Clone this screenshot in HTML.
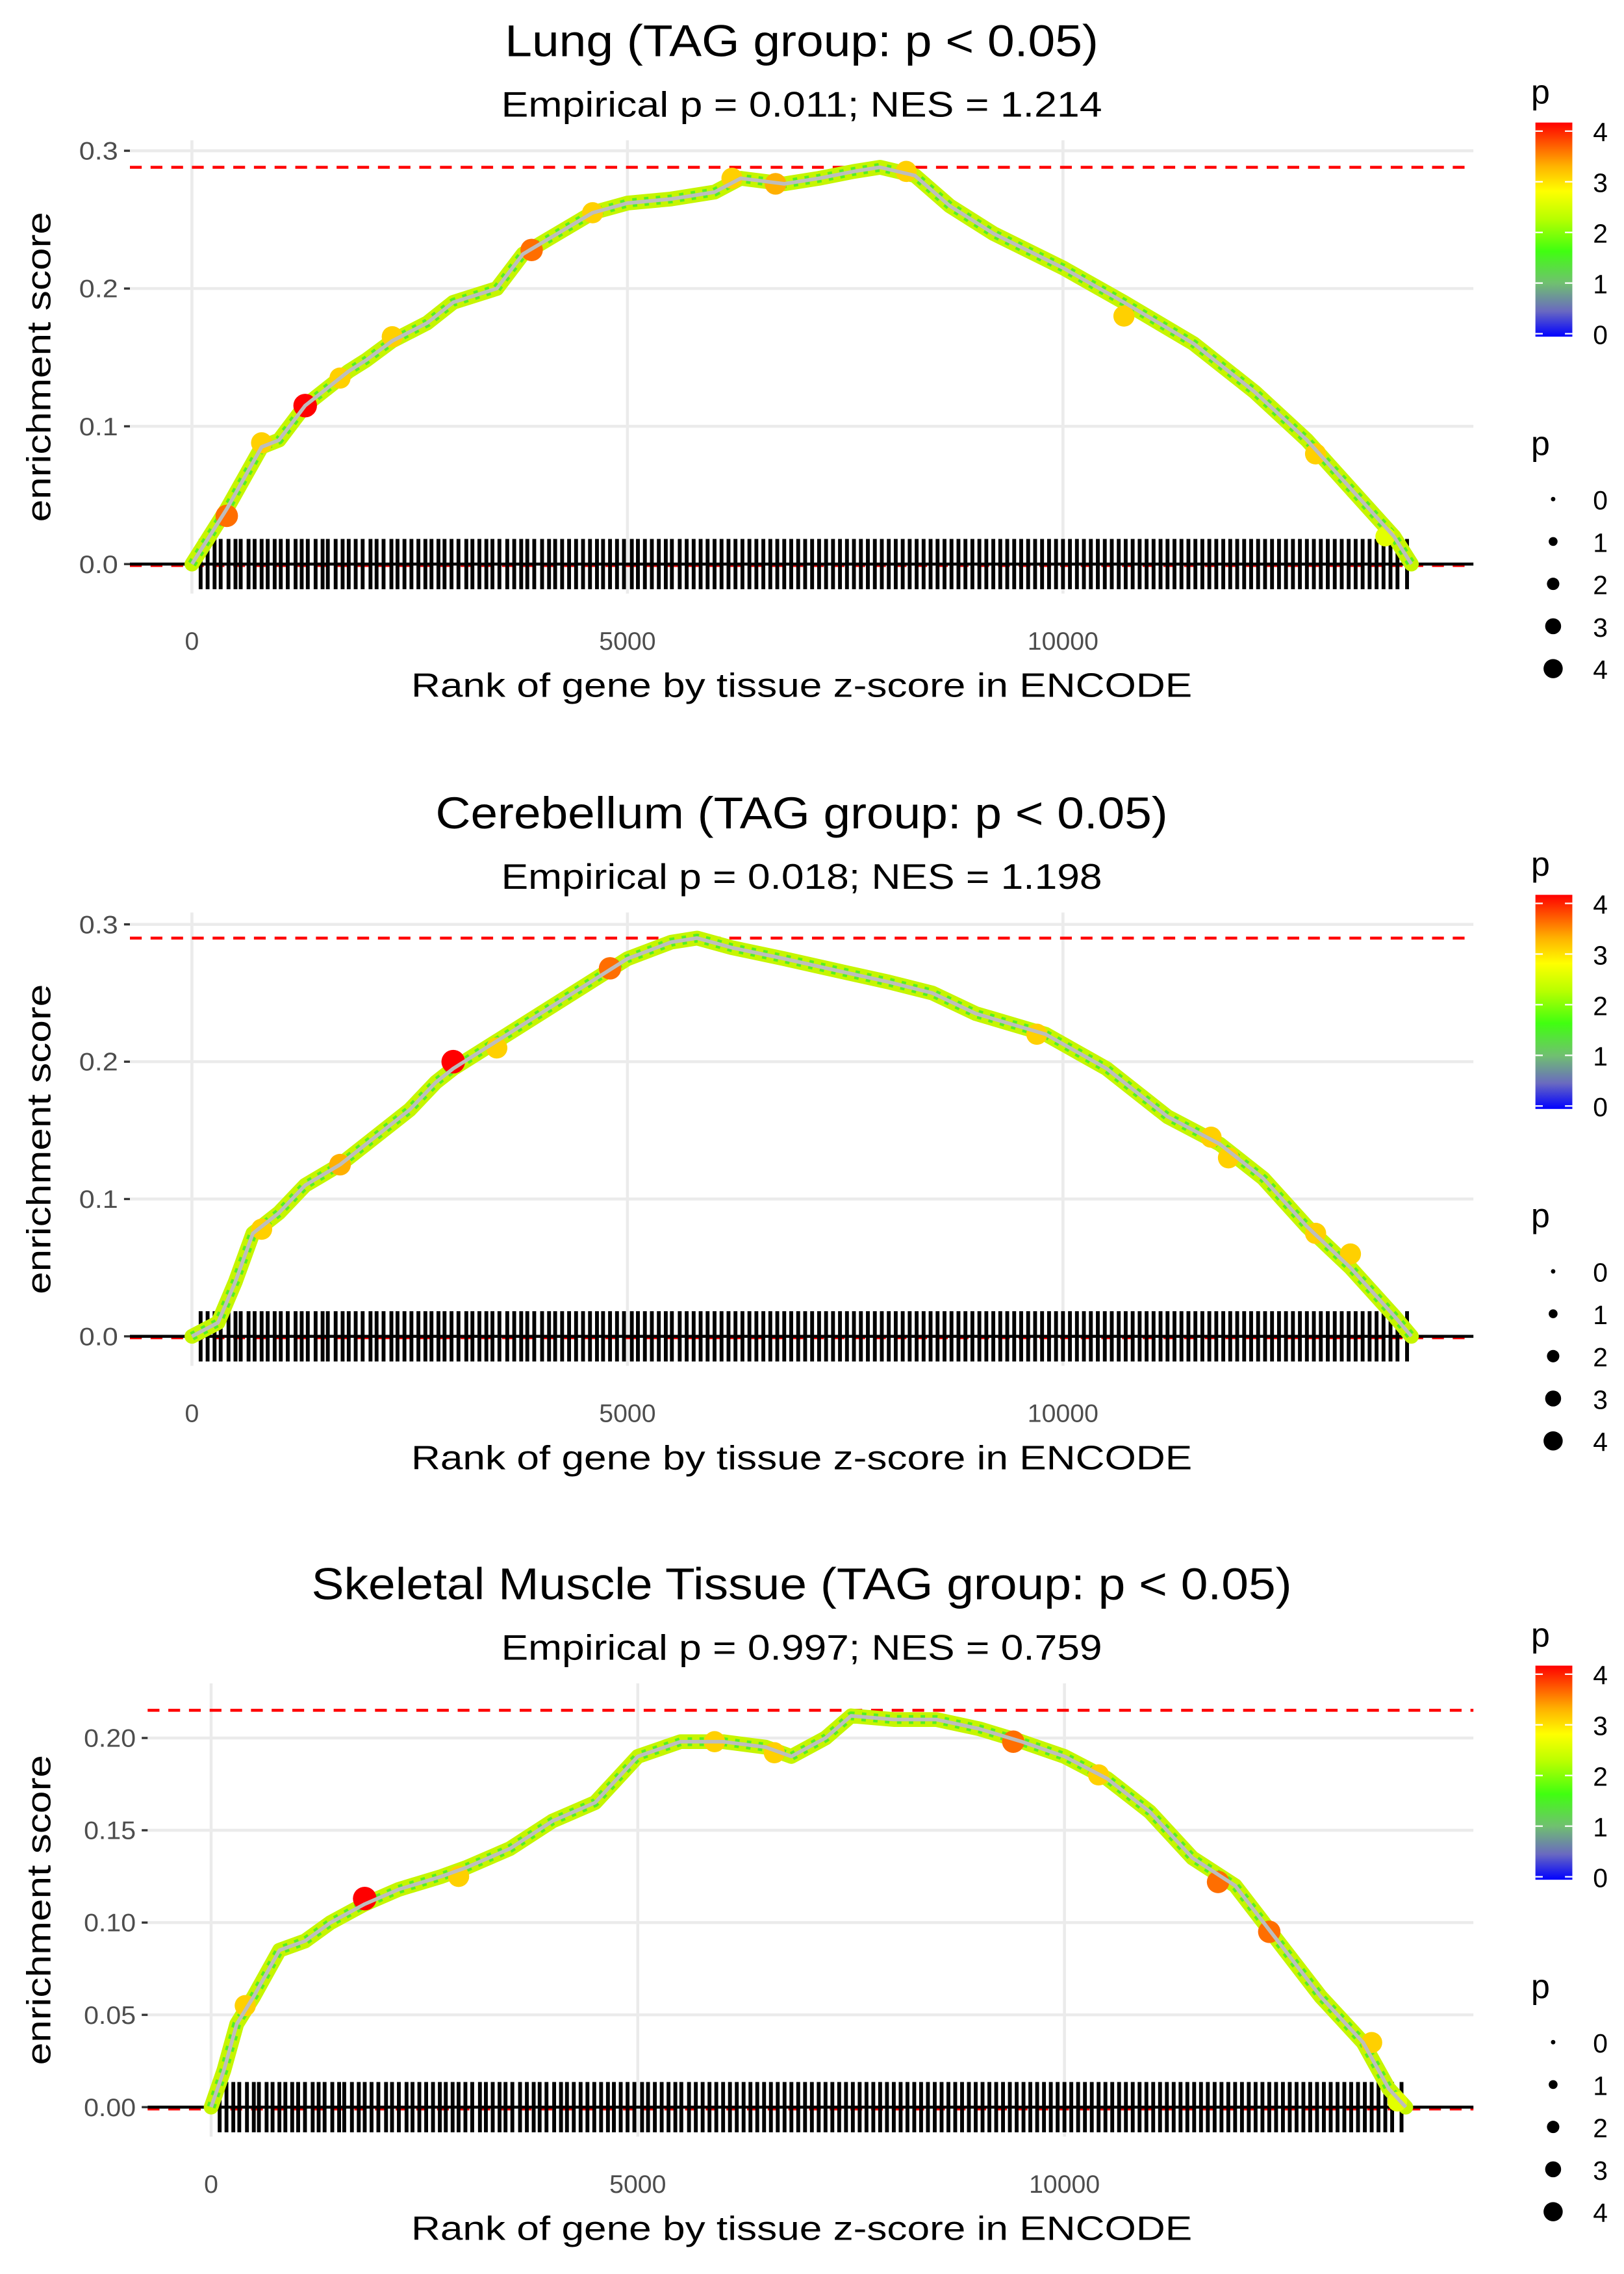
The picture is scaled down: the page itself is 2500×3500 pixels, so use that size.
<!DOCTYPE html>
<html><head><meta charset="utf-8"><style>
html,body{margin:0;padding:0;background:#fff}
svg{display:block}
text{font-family:"Liberation Sans",sans-serif}
</style></head><body>
<svg id="chart" width="2500" height="3500" viewBox="0 0 1100 1540" preserveAspectRatio="none" xmlns="http://www.w3.org/2000/svg">
<defs>
<linearGradient id="pgrad" x1="0" y1="1" x2="0" y2="0">
<stop offset="0" stop-color="#0000ff"/><stop offset="0.12" stop-color="#6a6ac0"/><stop offset="0.25" stop-color="#70c070"/>
<stop offset="0.4" stop-color="#40ff10"/><stop offset="0.55" stop-color="#b8ff00"/><stop offset="0.68" stop-color="#ffff00"/>
<stop offset="0.8" stop-color="#ffb000"/><stop offset="1" stop-color="#ff0000"/>
</linearGradient>
</defs>
</svg>
<script>
const titles = ["Lung (TAG group: p < 0.05)","Cerebellum (TAG group: p < 0.05)","Skeletal Muscle Tissue (TAG group: p < 0.05)"];
const titleWidths = [402, 496, 664];
const subtitles = ["Empirical p = 0.011; NES = 1.214","Empirical p = 0.018; NES = 1.198","Empirical p = 0.997; NES = 0.759"];
const maxES = [0.288, 0.290, 0.215];
const lungRank = [0,200,400,800,1000,1300,1500,1800,2000,2300,2700,3000,3500,3800,4200,4600,5000,5500,6000,6300,6800,7200,7600,7900,8300,8700,9200,10000,10700,11500,12200,12800,13300,13800,14000];
const lungES = [0,0.02,0.04,0.085,0.09,0.115,0.125,0.14,0.148,0.162,0.175,0.19,0.2,0.225,0.24,0.255,0.262,0.265,0.27,0.28,0.276,0.28,0.285,0.288,0.282,0.26,0.24,0.215,0.19,0.16,0.125,0.09,0.055,0.02,0];
const cereRank = [0,300,500,700,1000,1300,1700,2000,2500,2800,3000,3500,4000,4500,5000,5500,5800,6200,6800,7500,8000,8500,9000,9800,10500,11200,11800,12300,12800,13300,13800,14000];
const cereES = [0,0.01,0.04,0.075,0.09,0.11,0.125,0.14,0.165,0.185,0.195,0.215,0.235,0.255,0.275,0.287,0.29,0.283,0.275,0.265,0.258,0.25,0.235,0.22,0.195,0.16,0.14,0.115,0.08,0.05,0.015,0];
const skelRank = [0,150,300,500,800,1100,1400,1800,2200,2700,3000,3500,4000,4500,5000,5500,6000,6500,6800,7200,7500,8000,8500,9000,9500,10000,10500,11000,11500,12000,12500,13000,13500,13800,14000];
const skelES = [0,0.02,0.045,0.06,0.085,0.09,0.1,0.11,0.118,0.125,0.13,0.14,0.155,0.165,0.19,0.198,0.198,0.195,0.19,0.2,0.212,0.21,0.21,0.205,0.198,0.19,0.178,0.16,0.135,0.12,0.09,0.06,0.035,0.01,0];
const lungHitRank = [400,800,1300,1700,2300,3900,4600,6200,6700,8200,10700,12900,13700];
const lungHitES = [0.035,0.088,0.115,0.135,0.165,0.228,0.255,0.28,0.276,0.285,0.18,0.08,0.02];
const lungHitP = [3.5,3,4,3,3,3.5,3,3,3.2,3,3,3,2.5];
const cereHitRank = [800,1700,3000,3500,4800,9700,11700,11900,12900,13300];
const cereHitES = [0.078,0.125,0.2,0.21,0.268,0.22,0.145,0.13,0.075,0.06];
const cereHitP = [3,3.2,4,3,3.5,3,3,3,3,3];
const skelHitRank = [400,1800,2900,5900,6600,9400,10400,11800,12400,13600,13900];
const skelHitES = [0.055,0.113,0.125,0.198,0.192,0.198,0.18,0.122,0.095,0.035,0.003];
const skelHitP = [3,4,3,3,3,3.5,3,3.5,3.5,3,2.5];
const rugLung = [100,180,260,330,420,500,560,650,720,800,870,950,1020,1100,1190,1260,1330,1420,1500,1560,1650,1730,1800,1880,1960,2050,2120,2200,2290,2360,2440,2520,2600,2680,2750,2830,2900,2980,3060,3150,3220,3300,3380,3450,3530,3620,3700,3780,3850,3930,4020,4100,4170,4250,4330,4410,4490,4570,4650,4720,4800,4880,4960,5050,5120,5200,5280,5360,5440,5510,5600,5680,5760,5840,5920,6000,6080,6160,6240,6320,6400,6480,6560,6640,6720,6800,6880,6960,7040,7120,7200,7280,7360,7440,7520,7600,7680,7760,7840,7920,8000,8080,8160,8240,8320,8400,8480,8560,8640,8720,8800,8880,8960,9040,9120,9200,9280,9360,9440,9520,9600,9680,9760,9840,9920,10000,10080,10160,10240,10320,10400,10480,10560,10640,10720,10800,10880,10960,11040,11120,11200,11280,11360,11440,11520,11600,11680,11760,11840,11920,12000,12080,12160,12240,12320,12400,12480,12560,12640,12720,12800,12880,12960,13040,13120,13200,13280,13360,13440,13520,13600,13680,13760,13840,13950];
const rugCere = rugLung.map(v => v);
const rugSkel = rugLung.map(v => v);
const panelsY = [0, 523, 1045];
const yTicks = [[0,0.1,0.2,0.3],[0,0.1,0.2,0.3],[0,0.05,0.1,0.15,0.2]];
const yLabels = [["0.0","0.1","0.2","0.3"],["0.0","0.1","0.2","0.3"],["0.00","0.05","0.10","0.15","0.20"]];
const xTicks = [0,5000,10000];

const svg = document.getElementById('chart');
const NS = 'http://www.w3.org/2000/svg';
function mk(tag, attrs, parent){const e=document.createElementNS(NS,tag);for(const k in attrs)e.setAttribute(k,attrs[k]);(parent||svg).appendChild(e);return e;}
function txt(parent,x,y,str,size,anchor,len,extra){
  const a={x:x,y:y,'font-size':size,'text-anchor':anchor||'start'};
  if(len){a.textLength=len;a.lengthAdjust='spacingAndGlyphs';}
  if(extra)for(const k in extra)a[k]=extra[k];
  const t=mk('text',a,parent);t.textContent=str;return t;
}
function pColor(p){
  const stops=[[0,[0,0,255]],[0.5,[106,106,192]],[1,[112,192,112]],[1.6,[64,255,16]],[2.2,[184,255,0]],[2.7,[255,255,0]],[3.2,[255,176,0]],[4,[255,0,0]]];
  for(let i=1;i<stops.length;i++){if(p<=stops[i][0]){const a=stops[i-1],b=stops[i],t=(p-a[0])/(b[0]-a[0]);const c=a[1].map((v,j)=>Math.round(v+(b[1][j]-v)*t));return `rgb(${c})`;}}
  return 'rgb(255,0,0)';
}
function pRad(p){return 1.8+Math.sqrt(p/4)*6.2;}

const curves=[[lungRank,lungES],[cereRank,cereES],[skelRank,skelES]];
const hits=[[lungHitRank,lungHitES,lungHitP],[cereHitRank,cereHitES,cereHitP],[skelHitRank,skelHitES,skelHitP]];
const rugs=[rugLung,rugCere,rugSkel];
const geom=[{x0:130,x5:425,left:88,zero:382,unit:0.1,upx:93.3,top:95,bottom:402},
            {x0:130,x5:425,left:88,zero:905,unit:0.1,upx:93.0,top:618,bottom:925},
            {x0:143,x5:432,left:100,zero:1427,unit:0.05,upx:62.5,top:1140,bottom:1447}];
const names=['lung','cerebellum','skeletal-muscle'];

for(let i=0;i<3;i++){
  const g=geom[i], oy=panelsY[i];
  const X=r=>g.x0+(g.x5-g.x0)*r/5000;
  const Y=v=>g.zero-v/g.unit*g.upx;
  const grp=mk('g',{});
  
  
  const t=txt(grp,543,38+oy,titles[i],30,'middle',titleWidths[i]);
  
  
  const st=txt(grp,543,79+oy,subtitles[i],24,'middle',407);
  
  
  yTicks[i].forEach((v,k)=>{
    mk('line',{x1:g.left,x2:998,y1:Y(v),y2:Y(v),stroke:'#ebebeb','stroke-width':2},grp);
    mk('line',{x1:g.left-4,x2:g.left,y1:Y(v),y2:Y(v),stroke:'#333','stroke-width':1.5},grp);
    const lt=txt(grp,g.left-8,Y(v)+6,yLabels[i][k],17,'end',yLabels[i][k].length*8.8,{fill:'#4d4d4d'});
    
    
  });
  xTicks.forEach(v=>{
    mk('line',{x1:X(v),x2:X(v),y1:g.top,y2:g.bottom,stroke:'#ebebeb','stroke-width':2},grp);
    const s=String(v);
    const lt=txt(grp,X(v),g.bottom+38,s,17,'middle',s.length*9.6,{fill:'#4d4d4d'});
    
    
  });
  mk('line',{x1:g.left,x2:998,y1:Y(maxES[i]),y2:Y(maxES[i]),stroke:'#ff0000','stroke-width':2,'stroke-dasharray':'8 6'},grp);
  mk('line',{x1:g.left,x2:998,y1:Y(-0.001),y2:Y(-0.001),stroke:'#ff0000','stroke-width':2,'stroke-dasharray':'8 6'},grp);
  rugs[i].forEach(r=>{
    const l=mk('line',{x1:X(r),x2:X(r),y1:g.zero-17,y2:g.zero+17,stroke:'#000','stroke-width':2.6},grp);
    
    
  });
  mk('line',{x1:g.left,x2:998,y1:g.zero,y2:g.zero,stroke:'#000','stroke-width':2},grp);
  const [R,E]=curves[i];
  const pts=R.map((r,k)=>X(r)+','+Y(E[k])).join(' ');
  const band=mk('polyline',{points:pts,fill:'none',stroke:'#c6f500','stroke-width':10,'stroke-linejoin':'round','stroke-linecap':'round'},grp);
  
  
  mk('polyline',{points:pts,fill:'none',stroke:'#55ee22','stroke-width':6,'stroke-linejoin':'round','stroke-dasharray':'3 5'},grp);
  const [HR,HE,HP]=hits[i];
  HR.forEach((r,k)=>{
    const c=mk('circle',{cx:X(r),cy:Y(HE[k]),r:pRad(HP[k]),fill:pColor(HP[k])},grp);
    
    
  });
  const core=mk('polyline',{points:pts,fill:'none',stroke:'#bdbdbd','stroke-width':2.5,'stroke-linejoin':'round'},grp);
  
  
  const xt=txt(grp,543,g.bottom+70,'Rank of gene by tissue z-score in ENCODE',23,'middle',529);
  
  
  const cy=(g.top+g.bottom)/2;
  const yt=txt(grp,34,cy,'enrichment score',23,'middle',210,{transform:`rotate(-90 34 ${cy})`});
  
  
  const lg=mk('g',{},grp);
  
  
  txt(lg,1037,70+oy,'p',23,'start');
  mk('rect',{x:1040,y:83+oy,width:25,height:145,fill:'url(#pgrad)'},lg);
  [0,1,2,3,4].forEach(v=>{
    const yy=226+oy-v*34.3;
    mk('line',{x1:1040,x2:1045,y1:yy,y2:yy,stroke:'#fff','stroke-width':1},lg);
    mk('line',{x1:1060,x2:1065,y1:yy,y2:yy,stroke:'#fff','stroke-width':1},lg);
    txt(lg,1079,yy+7,String(v),18,'start');
  });
  const sg=mk('g',{},grp);
  
  
  txt(sg,1037,308+oy,'p',23,'start');
  [0,1,2,3,4].forEach(v=>{
    const yy=338+oy+v*28.7;
    mk('circle',{cx:1052,cy:yy,r:[1.5,3,4.2,5.4,6.5][v],fill:'#000'},sg);
    txt(sg,1079,yy+7,String(v),18,'start');
  });
}
</script>
</body></html>
